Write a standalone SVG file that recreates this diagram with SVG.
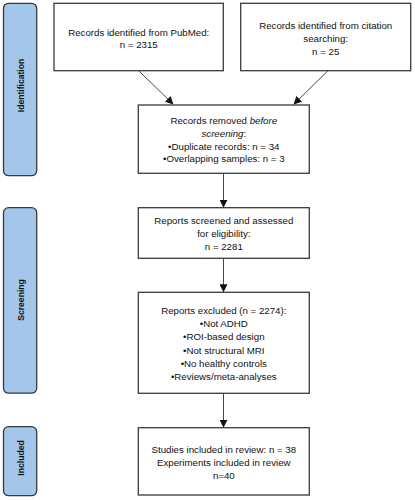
<svg xmlns="http://www.w3.org/2000/svg" width="415" height="500" viewBox="0 0 415 500">
<style>
.box{fill:#fff;stroke:#3a3a3a;stroke-width:1.3}
.bar{fill:#a4c6ea;stroke:#3a3a3a;stroke-width:1.3}
.t{font-family:"Liberation Sans",Arial,sans-serif;font-size:9.7px;fill:#111;text-anchor:middle}
.b{font-family:"Liberation Sans",Arial,sans-serif;font-size:8.6px;font-weight:bold;fill:#111;text-anchor:middle}
.c{stroke:#333;stroke-width:0.9;fill:none;marker-end:url(#ah)}
</style>
<defs>
<marker id="ah" viewBox="0 0 10 10" refX="10" refY="5" markerWidth="8" markerHeight="8" markerUnits="userSpaceOnUse" orient="auto">
<path d="M0,0 L10,5 L0,10 z" fill="#111"/>
</marker>
</defs>
<g id="bar-identification">
<rect class="bar" x="3.5" y="3.3" width="33.2" height="172.4" rx="5"/>
<text class="b" transform="translate(23.6,85.5) rotate(-90)">Identification</text>
</g>
<g id="bar-screening">
<rect class="bar" x="3.5" y="207.7" width="33.2" height="185.5" rx="5"/>
<text class="b" transform="translate(23.6,300) rotate(-90)">Screening</text>
</g>
<g id="bar-included">
<rect class="bar" x="3.5" y="426.7" width="33.2" height="69" rx="5"/>
<text class="b" transform="translate(23.6,458) rotate(-90)">Included</text>
</g>
<g id="connectors">
<line class="c" x1="138.6" y1="70.7" x2="173.5" y2="104.5"/>
<line class="c" x1="328" y1="70.7" x2="293.5" y2="104.5"/>
<line class="c" x1="223.5" y1="173.3" x2="223.5" y2="207.7"/>
<line class="c" x1="223.5" y1="258.3" x2="223.5" y2="292.3"/>
<line class="c" x1="223.5" y1="393.3" x2="223.5" y2="427.7"/>
</g>
<g id="pubmed">
<rect class="box" x="54" y="3.3" width="169.3" height="67.4"/>
<text class="t" x="138.7" y="35.5">Records identified from PubMed:</text>
<text class="t" x="138.7" y="47.5">n = 2315</text>
</g>
<g id="citation">
<rect class="box" x="240.7" y="3.3" width="170" height="67.4"/>
<text class="t" x="325.7" y="29">Records identified from citation</text>
<text class="t" x="325.7" y="41.5">searching:</text>
<text class="t" x="325.7" y="54.5">n = 25</text>
</g>
<g id="removed">
<rect class="box" x="138.3" y="105" width="171" height="68.3"/>
<text class="t" x="223.8" y="124.3">Records removed <tspan font-style="italic">before</tspan></text>
<text class="t" x="223.8" y="137"><tspan font-style="italic">screening</tspan>:</text>
<text class="t" x="223.8" y="149.7">•Duplicate records: n = 34</text>
<text class="t" x="223.8" y="162.4">•Overlapping samples: n = 3</text>
</g>
<g id="screened">
<rect class="box" x="138.3" y="207.7" width="171" height="50.6"/>
<text class="t" x="223.8" y="224.4">Reports screened and assessed</text>
<text class="t" x="223.8" y="237.4">for eligibility:</text>
<text class="t" x="223.8" y="250.4">n = 2281</text>
</g>
<g id="excluded">
<rect class="box" x="138.3" y="292.3" width="171" height="101"/>
<text class="t" x="223.8" y="314.4">Reports excluded (n = 2274):</text>
<text class="t" x="223.8" y="327.4">•Not ADHD</text>
<text class="t" x="223.8" y="340.4">•ROI-based design</text>
<text class="t" x="223.8" y="353.6">•Not structural MRI</text>
<text class="t" x="223.8" y="366.7">•No healthy controls</text>
<text class="t" x="223.8" y="379.7">•Reviews/meta-analyses</text>
</g>
<g id="included">
<rect class="box" x="138.3" y="427.7" width="171" height="67.3"/>
<text class="t" x="223.8" y="452.7">Studies included in review: n = 38</text>
<text class="t" x="223.8" y="465.7">Experiments included in review</text>
<text class="t" x="223.8" y="478.7">n=40</text>
</g>
</svg>
